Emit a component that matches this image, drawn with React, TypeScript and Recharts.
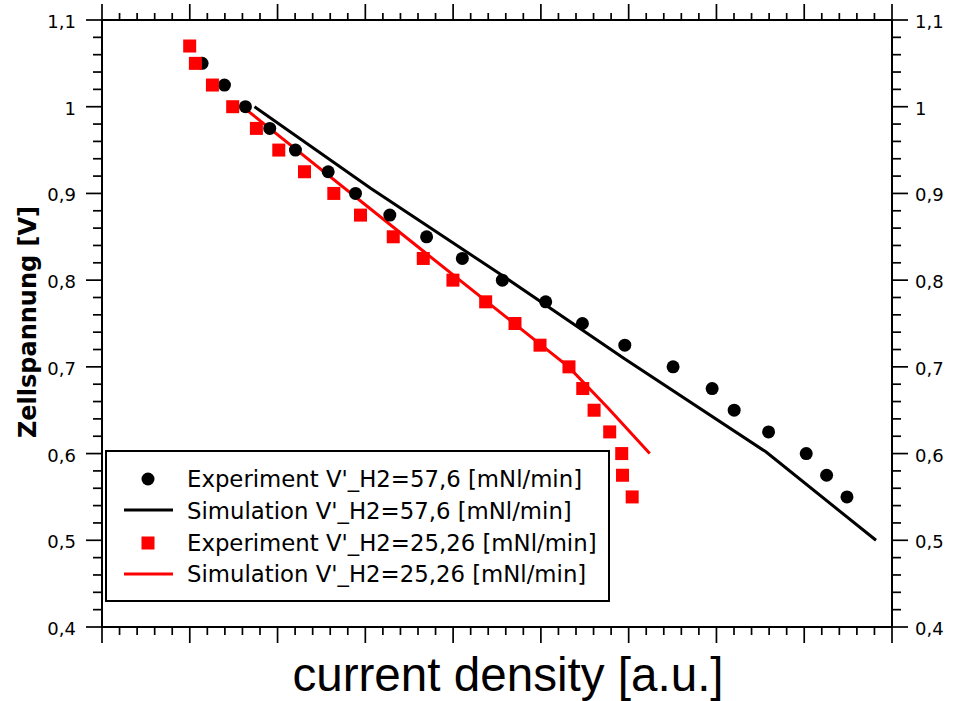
import React from 'react';
import { ComposedChart, XAxis, YAxis, Scatter, Line, Legend, Label } from 'recharts';

// ---- data (x in arbitrary current-density units, v = cell voltage [V]) ----
const expHighX = [1.14, 1.395, 1.634, 1.911, 2.204, 2.577, 2.888, 3.279, 3.698, 4.105, 4.561, 5.055, 5.473, 5.956, 6.506, 6.951, 7.202, 7.594, 8.023, 8.255, 8.487];
const expHighV = [1.05, 1.025, 1.0, 0.975, 0.95, 0.925, 0.9, 0.875, 0.85, 0.825, 0.8, 0.775, 0.75, 0.725, 0.7, 0.675, 0.65, 0.625, 0.6, 0.575, 0.55];

const expLowX = [0.999, 1.064, 1.258, 1.489, 1.759, 2.014, 2.307, 2.641, 2.945, 3.318, 3.66, 3.998, 4.371, 4.705, 4.99, 5.32, 5.477, 5.606, 5.784, 5.921, 5.93, 6.04];
const expLowV = [1.07, 1.05, 1.025, 1.0, 0.975, 0.95, 0.925, 0.9, 0.875, 0.85, 0.825, 0.8, 0.775, 0.75, 0.725, 0.7, 0.675, 0.65, 0.625, 0.6, 0.575, 0.55];

const simHighX = [1.737, 3.06, 4.565, 5.944, 7.563, 8.818];
const simHighV = [1.0, 0.906, 0.805, 0.71, 0.602, 0.5];

const simLowX = [1.577, 3.666, 5.316, 5.77, 6.24];
const simLowV = [1.002, 0.833, 0.7, 0.652, 0.6];

const xMajorTicks = [0, 1, 2, 3, 4, 5, 6, 7, 8, 9];
const yMajorTicks = [0.4, 0.5, 0.6, 0.7, 0.8, 0.9, 1.0, 1.1];

const legendLabels = [
  "Experiment V'_H2=57,6 [mNl/min]",
  "Simulation V'_H2=57,6 [mNl/min]",
  "Experiment V'_H2=25,26 [mNl/min]",
  "Simulation V'_H2=25,26 [mNl/min]",
];
const xTitle = 'current density [a.u.]';
const yTitle = 'Zellspannung [V]';

// ---- derived ----
const zip = (xs: number[], vs: number[]) => xs.map((x, i) => ({ x, v: vs[i] }));
const expHigh = zip(expHighX, expHighV);
const expLow = zip(expLowX, expLowV);
const simHigh = zip(simHighX, simHighV);
const simLow = zip(simLowX, simLowV);

const withMinor = (majors: number[], parts: number) => {
  const out: number[] = [];
  for (let i = 0; i < majors.length; i++) {
    out.push(majors[i]);
    if (i < majors.length - 1) {
      const step = (majors[i + 1] - majors[i]) / parts;
      for (let k = 1; k < parts; k++) out.push(majors[i] + step * k);
    }
  }
  return out;
};
const xTicks = withMinor(xMajorTicks, 5);
const yTicks = withMinor(yMajorTicks, 5);

const isMajor = (v: number, list: number[]) => list.some((m) => Math.abs(m - v) < 1e-6);
const fmtY = (v: number) => String(Math.round(v * 10) / 10).replace('.', ',');

const TICK_FONT = 'DejaVu Sans, Verdana, sans-serif';
const AX = '#000';
const TW = 1.7;

const LeftTick = (props: any) => {
  const { x, y, payload } = props;
  const major = isMajor(payload.value, yMajorTicks);
  return (
    <g>
      <line x1={x - (major ? 16 : 9)} x2={x} y1={y} y2={y} stroke={AX} strokeWidth={TW} />
      {major && (
        <text x={x - 26} y={y + 8} textAnchor="end" fontSize={18} fontFamily={TICK_FONT} fill="#000">
          {fmtY(payload.value)}
        </text>
      )}
    </g>
  );
};
const RightTick = (props: any) => {
  const { x, y, payload } = props;
  const major = isMajor(payload.value, yMajorTicks);
  return (
    <g>
      <line x1={x} x2={x + (major ? 16 : 9)} y1={y} y2={y} stroke={AX} strokeWidth={TW} />
      {major && (
        <text x={x + 23} y={y + 8} textAnchor="start" fontSize={18} fontFamily={TICK_FONT} fill="#000">
          {fmtY(payload.value)}
        </text>
      )}
    </g>
  );
};
const BottomTick = (props: any) => {
  const { x, y, payload } = props;
  const major = isMajor(payload.value, xMajorTicks);
  return <line x1={x} x2={x} y1={y} y2={y + (major ? 16 : 8)} stroke={AX} strokeWidth={TW} />;
};
const TopTick = (props: any) => {
  const { x, y, payload } = props;
  const major = isMajor(payload.value, xMajorTicks);
  return <line x1={x} x2={x} y1={y} y2={y - (major ? 16 : 7)} stroke={AX} strokeWidth={TW} />;
};

const CircleShape = (props: any) => <circle cx={props.cx} cy={props.cy} r={6.5} fill="#000" />;
const SquareShape = (props: any) => (
  <rect x={props.cx - 6.5} y={props.cy - 6.5} width={13} height={13} fill="#ff0000" />
);

const LegendBox = () => {
  const rows = [
    { sym: 'circle', color: '#000', cy: 29, by: 36.5 },
    { sym: 'line', color: '#000', cy: 60, by: 68.5 },
    { sym: 'square', color: '#ff0000', cy: 93, by: 100.5 },
    { sym: 'line', color: '#ff0000', cy: 124, by: 132 },
  ];
  return (
    <svg width={505} height={152} style={{ display: 'block' }}>
      <rect x={1} y={1} width={503} height={150} fill="#fff" stroke="#000" strokeWidth={2} />
      {rows.map((r, i) => (
        <g key={i}>
          {r.sym === 'circle' && <circle cx={43} cy={r.cy} r={6.5} fill={r.color} />}
          {r.sym === 'square' && <rect x={36.5} y={r.cy - 6.5} width={13} height={13} fill={r.color} />}
          {r.sym === 'line' && <line x1={19} x2={68} y1={r.cy} y2={r.cy} stroke={r.color} strokeWidth={3} />}
          <text x={82} y={r.by} fontSize={22.8} fontFamily={TICK_FONT} fill="#000">
            {legendLabels[i]}
          </text>
        </g>
      ))}
    </svg>
  );
};

export default function App() {
  return (
    <div style={{ position: 'absolute', left: 0, top: 0, width: 960, height: 701, background: '#fff' }}>
      <ComposedChart width={960} height={701} margin={{ top: 0, right: 0, bottom: 34, left: 40 }}>
        <XAxis
          xAxisId="b"
          type="number"
          dataKey="x"
          domain={[0, 9]}
          ticks={xTicks}
          interval={0}
          allowDataOverflow
          height={40}
          tickSize={0}
          tickMargin={0}
          tickLine={false}
          tick={BottomTick}
          axisLine={{ stroke: AX, strokeWidth: 2 }}
        >
          <Label
            content={() => (
              <text x={508} y={691} textAnchor="middle" fontSize={47.6} fontFamily="Liberation Sans, Arial, sans-serif" fill="#000">
                {xTitle}
              </text>
            )}
          />
        </XAxis>
        <XAxis
          xAxisId="t"
          orientation="top"
          type="number"
          dataKey="x"
          domain={[0, 9]}
          ticks={xTicks}
          interval={0}
          allowDataOverflow
          height={20}
          tickSize={0}
          tickMargin={0}
          tickLine={false}
          tick={TopTick}
          axisLine={{ stroke: AX, strokeWidth: 2 }}
        />
        <YAxis
          yAxisId="l"
          type="number"
          domain={[0.4, 1.1]}
          ticks={yTicks}
          interval={0}
          allowDataOverflow
          width={62}
          tickSize={0}
          tickMargin={0}
          tickLine={false}
          tick={LeftTick}
          axisLine={{ stroke: AX, strokeWidth: 2 }}
        >
          <Label
            content={() => (
              <text
                x={36}
                y={322}
                transform="rotate(-90, 36, 322)"
                textAnchor="middle"
                fontSize={24}
                fontWeight="bold"
                fontFamily={TICK_FONT}
                fill="#000"
              >
                {yTitle}
              </text>
            )}
          />
        </YAxis>
        <YAxis
          yAxisId="r"
          orientation="right"
          type="number"
          domain={[0.4, 1.1]}
          ticks={yTicks}
          interval={0}
          allowDataOverflow
          width={68}
          tickSize={0}
          tickMargin={0}
          tickLine={false}
          tick={RightTick}
          axisLine={{ stroke: AX, strokeWidth: 2 }}
        />
        <Scatter xAxisId="b" yAxisId="l" data={expHigh} dataKey="v" shape={CircleShape} isAnimationActive={false} />
        <Line xAxisId="b" yAxisId="l" data={simHigh} dataKey="v" type="linear" stroke="#000" strokeWidth={3} dot={false} activeDot={false} isAnimationActive={false} />
        <Scatter xAxisId="b" yAxisId="l" data={expLow} dataKey="v" shape={SquareShape} isAnimationActive={false} />
        <Line xAxisId="b" yAxisId="l" data={simLow} dataKey="v" type="linear" stroke="#ff0000" strokeWidth={3} dot={false} activeDot={false} isAnimationActive={false} />
        <Legend
          layout="vertical"
          align="center"
          verticalAlign="middle"
          content={() => <LegendBox />}
          wrapperStyle={{ position: 'absolute', left: 105, top: 450, width: 505, height: 152 }}
        />
      </ComposedChart>
    </div>
  );
}
